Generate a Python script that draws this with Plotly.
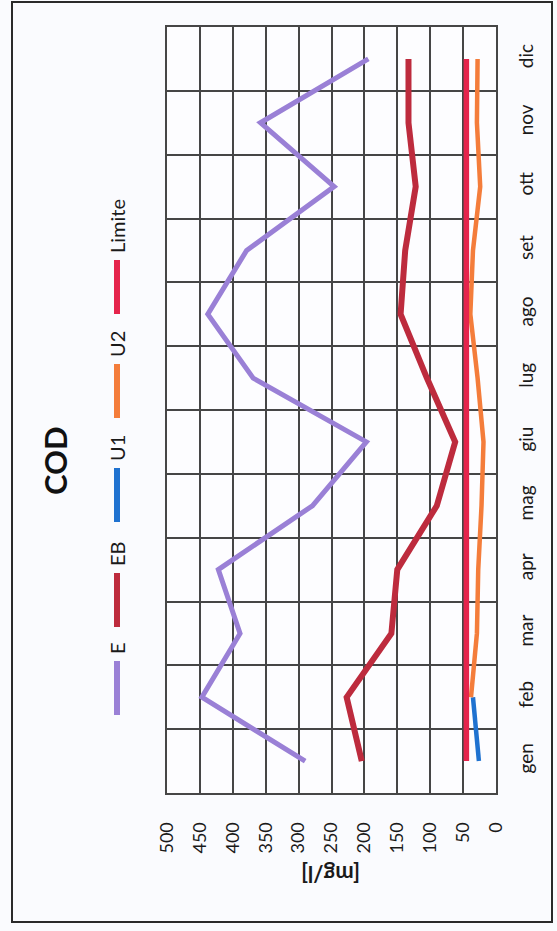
import plotly.graph_objects as go

# Monthly COD readings [mg/l]
months = ["gen", "feb", "mar", "apr", "mag", "giu", "lug", "ago", "set", "ott", "nov", "dic"]
E = [290, 447, 389, 422, 279, 197, 369, 438, 379, 246, 358, 194]
EB = [204, 227, 159, 150, 90, 62, 105, 145, 138, 122, 133, 133]
U1 = [26, 35, None, None, None, None, None, None, None, None, None, None]
U2 = [None, 38, 29, 27, 22, 19, 28, 39, 35, 24, 29, 28]
Limite = [45] * 12

series_names = ["E", "EB", "U1", "U2", "Limite"]
series_values = [E, EB, U1, U2, Limite]
series_colors = ["#9a80d6", "#bd2b3d", "#1f72d0", "#f47d3b", "#e5244c"]
series_widths = [5, 6, 4.5, 4.5, 5.5]

FONT = "Lato"
W, H = 557, 931
L, R, T, B = 167, 61, 27, 138
PW, PH = W - L - R, H - T - B


def px_x(px):
    return (px - L) / PW


def px_y(py):
    return (H - B - py) / PH


fig = go.Figure()
for name, vals, col, lw in zip(series_names, series_values, series_colors, series_widths):
    fig.add_trace(go.Scatter(
        x=vals, y=months, mode="lines", name=name,
        line=dict(color=col, width=lw), connectgaps=False, showlegend=False,
    ))

grid_col = "#464646"
fig.update_xaxes(
    range=[500, 0], tick0=0, dtick=50, tickangle=-90,
    showgrid=True, gridcolor=grid_col, gridwidth=2,
    showline=True, linecolor=grid_col, linewidth=2, mirror=True,
    zeroline=False, ticks="", ticklabelstandoff=20,
    tickfont=dict(family=FONT, size=18, color="#1a1a1a"),
    automargin=False,
)
fig.update_yaxes(
    type="category", categoryorder="array", categoryarray=months,
    range=[-0.5, 11.5], side="right", tickangle=-90, tickson="boundaries",
    showgrid=True, gridcolor=grid_col, gridwidth=2,
    showline=True, linecolor=grid_col, linewidth=2, mirror=True,
    ticks="", ticklabelstandoff=12,
    tickfont=dict(family=FONT, size=19, color="#1a1a1a"),
    automargin=False,
)

shapes = []
annotations = []

# Outer chart frame
shapes.append(dict(type="rect", xref="paper", yref="paper",
                   x0=px_x(12), x1=px_x(552), y0=px_y(922), y1=px_y(2),
                   line=dict(color="#2a2a2a", width=2), fillcolor="rgba(0,0,0,0)", layer="below"))

# Title and axis title
annotations.append(dict(text="<b>COD</b>", xref="paper", yref="paper",
                        x=px_x(55), y=px_y(461), xanchor="center", yanchor="middle",
                        showarrow=False, textangle=-90,
                        font=dict(family=FONT, size=31, color="#111111")))
annotations.append(dict(text="<b>[mg/l]</b>", xref="paper", yref="paper",
                        x=px_x(331), y=px_y(874), xanchor="center", yanchor="middle",
                        showarrow=False, textangle=180,
                        font=dict(family=FONT, size=22, color="#1a1a1a")))

# Legend drawn as rotated entries: symbol line then label above it
legend_x = 117
sym_bottom = [715, 627, 522, 418, 314]
sym_len = 54
for name, col, yb in zip(series_names, series_colors, sym_bottom):
    yt = yb - sym_len
    shapes.append(dict(type="line", xref="paper", yref="paper",
                       x0=px_x(legend_x), x1=px_x(legend_x), y0=px_y(yb), y1=px_y(yt),
                       line=dict(color=col, width=6)))
    annotations.append(dict(text=name, xref="paper", yref="paper",
                            x=px_x(legend_x), y=px_y(yt - 5), xanchor="center", yanchor="bottom",
                            showarrow=False, textangle=-90,
                            font=dict(family=FONT, size=20, color="#1a1a1a")))

fig.update_layout(
    width=W, height=H,
    margin=dict(l=L, r=R, t=T, b=B, autoexpand=False),
    paper_bgcolor="#fafbfe", plot_bgcolor="#fdfdff",
    shapes=shapes, annotations=annotations,
    showlegend=False,
)

fig.write_html("out.html")
